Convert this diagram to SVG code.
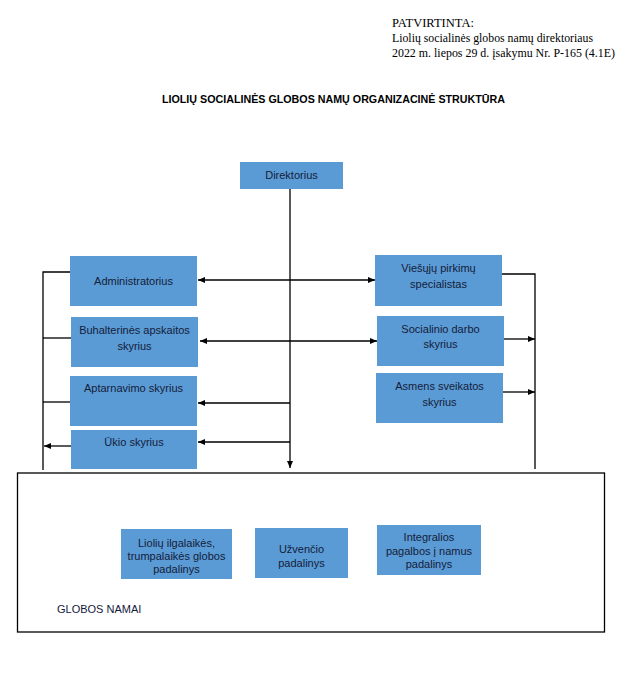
<svg xmlns="http://www.w3.org/2000/svg" width="638" height="686" viewBox="0 0 638 686">
<defs>
<style>
.box{fill:#5b9bd5;}
.t{font-family:"Liberation Sans",Arial,sans-serif;font-size:11px;fill:#13203a;text-anchor:middle;}
.hdr{font-family:"Liberation Serif","Times New Roman",serif;font-size:12.5px;fill:#000;}
.ttl{font-family:"Liberation Sans",Arial,sans-serif;font-size:11px;font-weight:bold;fill:#000;text-anchor:middle;}
.ln{stroke:#000;stroke-width:1.3;fill:none;}
.frame{stroke:#000;stroke-width:1.3;fill:none;}
</style>
<marker id="ah" markerUnits="userSpaceOnUse" markerWidth="8" markerHeight="7" refX="7" refY="3" orient="auto-start-reverse">
<path d="M0,0 L7,3 L0,6 z" fill="#000"/>
</marker>
</defs>
<rect width="638" height="686" fill="#fff"/>
<g id="header">
<text class="hdr" x="392" y="27" textLength="82" lengthAdjust="spacingAndGlyphs">PATVIRTINTA:</text>
<text class="hdr" x="392" y="42" textLength="201" lengthAdjust="spacingAndGlyphs">Liolių socialinės globos namų direktoriaus</text>
<text class="hdr" x="392" y="57" textLength="223" lengthAdjust="spacingAndGlyphs">2022 m. liepos 29 d. įsakymu Nr. P-165 (4.1E)</text>
</g>
<g id="title">
<text class="ttl" x="333.5" y="103" textLength="343" lengthAdjust="spacingAndGlyphs">LIOLIŲ SOCIALINĖS GLOBOS NAMŲ ORGANIZACINĖ STRUKTŪRA</text>
</g>
<g id="globos-namai">
<rect class="frame" x="17.5" y="473" width="587" height="159"/>
<text class="t" x="57" y="613" style="text-anchor:start">GLOBOS NAMAI</text>
</g>
<g id="connectors">
<line class="ln" x1="290" y1="189" x2="290" y2="468" marker-end="url(#ah)"/>
<line class="ln" x1="198" y1="280" x2="375" y2="280" marker-start="url(#ah)" marker-end="url(#ah)"/>
<line class="ln" x1="200" y1="341" x2="377" y2="341" marker-start="url(#ah)" marker-end="url(#ah)"/>
<line class="ln" x1="290" y1="403" x2="198" y2="403" marker-end="url(#ah)"/>
<line class="ln" x1="290" y1="442" x2="198" y2="442" marker-end="url(#ah)"/>
<polyline class="ln" points="70,272 43,272 43,470"/>
<line class="ln" x1="43" y1="338" x2="71" y2="338"/>
<line class="ln" x1="43" y1="402" x2="70" y2="402"/>
<line class="ln" x1="71" y1="446" x2="44" y2="446" marker-end="url(#ah)"/>
<polyline class="ln" points="502,274 535,274 535,469"/>
<line class="ln" x1="504" y1="339" x2="535" y2="339" marker-end="url(#ah)"/>
<line class="ln" x1="503" y1="392" x2="535" y2="392" marker-end="url(#ah)"/>
</g>
<g id="direktorius">
<rect class="box" x="240" y="162" width="103" height="27"/>
<text class="t" x="291.5" y="179">Direktorius</text>
</g>
<g id="administratorius">
<rect class="box" x="70" y="256" width="127" height="50"/>
<text class="t" x="133.5" y="285">Administratorius</text>
</g>
<g id="buhalterines">
<rect class="box" x="71" y="317" width="127" height="50"/>
<text class="t" x="134.5" y="334">Buhalterinės apskaitos</text>
<text class="t" x="134.5" y="350">skyrius</text>
</g>
<g id="aptarnavimo">
<rect class="box" x="70" y="376" width="127" height="50"/>
<text class="t" x="133.5" y="392">Aptarnavimo skyrius</text>
</g>
<g id="ukio">
<rect class="box" x="71" y="430" width="126" height="39"/>
<text class="t" x="134" y="446">Ūkio skyrius</text>
</g>
<g id="viesuju">
<rect class="box" x="375" y="255" width="127" height="51"/>
<text class="t" x="438.5" y="272">Viešųjų pirkimų</text>
<text class="t" x="438.5" y="288">specialistas</text>
</g>
<g id="socialinio">
<rect class="box" x="377" y="316" width="127" height="50"/>
<text class="t" x="440.5" y="333">Socialinio darbo</text>
<text class="t" x="440.5" y="348">skyrius</text>
</g>
<g id="asmens">
<rect class="box" x="376" y="373" width="127" height="50"/>
<text class="t" x="439.5" y="390">Asmens sveikatos</text>
<text class="t" x="439.5" y="406">skyrius</text>
</g>
<g id="lioliu-padalinys">
<rect class="box" x="121" y="529" width="111" height="50"/>
<text class="t" x="176.5" y="547">Liolių ilgalaikės,</text>
<text class="t" x="176.5" y="560">trumpalaikės globos</text>
<text class="t" x="176.5" y="573">padalinys</text>
</g>
<g id="uzvencio-padalinys">
<rect class="box" x="255" y="528" width="93" height="50"/>
<text class="t" x="301.5" y="553">Užvenčio</text>
<text class="t" x="301.5" y="567">padalinys</text>
</g>
<g id="integralios-padalinys">
<rect class="box" x="377" y="525" width="104" height="50"/>
<text class="t" x="429" y="541">Integralios</text>
<text class="t" x="429" y="555">pagalbos į namus</text>
<text class="t" x="429" y="568">padalinys</text>
</g>
</svg>
